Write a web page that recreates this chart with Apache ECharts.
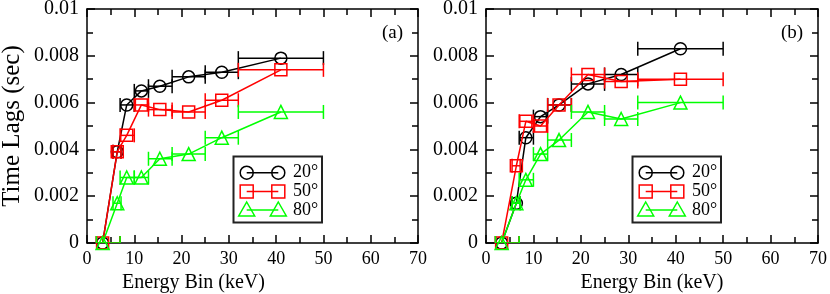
<!DOCTYPE html>
<html>
<head>
<meta charset="utf-8">
<script src="https://cdn.jsdelivr.net/npm/echarts@6/dist/echarts.min.js"></script>
<style>
html,body{margin:0;padding:0;background:#fff;}
#chart{width:830px;height:294px;}
</style>
</head>
<body>
<div id="chart"></div>
<script>
// ---- data ----
var energy = [3.3, 6.4, 8.4, 11.5, 15.4, 21.5, 28.5, 41.0];
var binLow = [2, 5.5, 7, 10, 13, 18, 25, 32];
var binHigh = [7, 7.2, 10, 13, 18, 25, 32, 50];

var lagA20 = [0, 0.0039, 0.0059, 0.0065, 0.0067, 0.0071, 0.0073, 0.0079];
var lagA50 = [0, 0.0039, 0.0046, 0.0059, 0.0057, 0.0056, 0.0061, 0.0074];
var lagA80 = [0, 0.0017, 0.0028, 0.0028, 0.0036, 0.0038, 0.0045, 0.0056];

var lagB20 = [0, 0.0017, 0.0045, 0.0054, 0.0059, 0.0068, 0.0072, 0.0083];
var lagB50 = [0, 0.0033, 0.0052, 0.0050, 0.0059, 0.0072, 0.0069, 0.0070];
var lagB80 = [0, 0.0017, 0.0027, 0.0038, 0.0044, 0.0056, 0.0053, 0.0060];

var seriesNames = ['20°', '50°', '80°'];
var panelLabels = ['(a)', '(b)'];
var xTitle = 'Energy Bin (keV)';
var yTitle = 'Time Lags (sec)';

// ---- styling ----
var FONT = '"Liberation Serif", "Times New Roman", serif';
var colors = ['#000000', '#ff0000', '#00ff00'];
var symbols = ['circle', 'rect', 'triangle'];
var symSizes = [12, 12, 13];

var grids = [
  {left: 87, top: 9, width: 331, height: 234, outerBoundsMode: 'none', containLabel: false},
  {left: 486, top: 9, width: 332, height: 234, outerBoundsMode: 'none', containLabel: false}
];

function yFmt(v) {
  if (Math.abs(v) < 1e-12) return '0';
  if (Math.abs(v - 0.01) < 1e-9) return '0.01';
  return v.toFixed(3);
}

var xAxes = [], yAxes = [];
grids.forEach(function (g, i) {
  var common = {
    gridIndex: i, type: 'value', min: 0, max: 70, interval: 10,
    axisLine: {show: true, onZero: false, lineStyle: {color: '#000', width: 1.5}},
    axisTick: {show: true, inside: true, length: 8, lineStyle: {color: '#000', width: 1.5}},
    minorTick: {show: true, splitNumber: 2, length: 6, lineStyle: {color: '#000', width: 1.5}},
    splitLine: {show: false}
  };
  xAxes.push(Object.assign({}, common, {
    position: 'bottom',
    axisLabel: {show: true, fontFamily: FONT, fontSize: 18, color: '#000', margin: 7},
    name: xTitle, nameLocation: 'middle', nameGap: 25,
    nameTextStyle: {fontFamily: FONT, fontSize: 20, color: '#000',
      padding: i === 0 ? [0, 118, 0, 0] : [0, 0, 0, 0]}
  }));
  xAxes.push(Object.assign({}, common, {position: 'top', axisLabel: {show: false}}));
  var ycommon = {
    gridIndex: i, type: 'value', min: 0, max: 0.01, interval: 0.002,
    axisLine: {show: true, onZero: false, lineStyle: {color: '#000', width: 1.5}},
    axisTick: {show: true, inside: true, length: 8, lineStyle: {color: '#000', width: 1.5}},
    minorTick: {show: true, splitNumber: 2, length: 6, lineStyle: {color: '#000', width: 1.5}},
    splitLine: {show: false}
  };
  var yl = Object.assign({}, ycommon, {
    position: 'left',
    axisLabel: {show: true, fontFamily: FONT, fontSize: 20, color: '#000', margin: 8, formatter: yFmt}
  });
  if (i === 0) {
    yl.name = yTitle;
    yl.nameLocation = 'middle';
    yl.nameGap = 62;
    yl.nameTextStyle = {fontFamily: FONT, fontSize: 25, color: '#000'};
  }
  yAxes.push(yl);
  yAxes.push(Object.assign({}, ycommon, {position: 'right', axisLabel: {show: false}}));
});

function errRender(color) {
  return function (params, api) {
    var y = api.value(1);
    var p1 = api.coord([api.value(2), y]);
    var p2 = api.coord([api.value(3), y]);
    var h = 7;
    var st = {stroke: color, lineWidth: 1.5, fill: null};
    return {
      type: 'group',
      children: [
        {type: 'line', shape: {x1: p1[0], y1: p1[1], x2: p2[0], y2: p2[1]}, style: st},
        {type: 'line', shape: {x1: p1[0], y1: p1[1] - h, x2: p1[0], y2: p1[1] + h}, style: st},
        {type: 'line', shape: {x1: p2[0], y1: p2[1] - h, x2: p2[0], y2: p2[1] + h}, style: st}
      ]
    };
  };
}

var panels = [[lagA20, lagA50, lagA80], [lagB20, lagB50, lagB80]];
var series = [];
panels.forEach(function (sets, p) {
  sets.forEach(function (vals, k) {
    series.push({
      type: 'custom', name: seriesNames[k] + ' err',
      xAxisIndex: p * 2, yAxisIndex: p * 2,
      clip: true, silent: true,
      renderItem: errRender(colors[k]),
      data: energy.map(function (e, j) { return [e, vals[j], binLow[j], binHigh[j]]; }),
      z: 2 + k * 2
    });
    series.push({
      type: 'line', name: seriesNames[k],
      xAxisIndex: p * 2, yAxisIndex: p * 2,
      clip: false,
      symbol: symbols[k], symbolSize: symSizes[k], showAllSymbol: true,
      lineStyle: {color: colors[k], width: 1.5},
      itemStyle: {color: 'transparent', borderColor: colors[k], borderWidth: 1.5},
      data: energy.map(function (e, j) { return [e, vals[j]]; }),
      z: 3 + k * 2
    });
  });
});

// legend boxes and panel labels
var graphics = [];
grids.forEach(function (g, p) {
  var ox = g.left;
  var bx = ox + 146.5, by = 156.5, bw = 88.5, bh = 66;
  graphics.push({type: 'rect', shape: {x: bx, y: by, width: bw, height: bh},
    style: {fill: '#fff', stroke: '#222', lineWidth: 2}, z: 20});
  var rows = [172.7, 191.5, 210];
  var xa = ox + 159.7, xb = ox + 191.3;
  seriesNames.forEach(function (nm, k) {
    var yy = rows[k], c = colors[k];
    var st = {stroke: c, lineWidth: 1.5, fill: null};
    graphics.push({type: 'line', shape: {x1: xa, y1: yy, x2: xb, y2: yy}, style: st, z: 21});
    [xa, xb].forEach(function (cx) {
      if (k === 0) {
        graphics.push({type: 'circle', shape: {cx: cx, cy: yy, r: 6.5}, style: st, z: 22});
      } else if (k === 1) {
        graphics.push({type: 'rect', shape: {x: cx - 6.5, y: yy - 6.5, width: 13, height: 13}, style: st, z: 22});
      } else {
        graphics.push({type: 'polygon', shape: {points: [[cx, yy - 8], [cx + 8, yy + 6], [cx - 8, yy + 6]]}, style: st, z: 22});
      }
    });
    graphics.push({type: 'text', x: ox + 206, y: yy, z: 22,
      style: {text: nm, font: '18px ' + FONT, fill: '#000', textVerticalAlign: 'middle', verticalAlign: 'middle'}});
  });
  graphics.push({type: 'text', x: ox + 295, y: 33, z: 22,
    style: {text: panelLabels[p], font: '19px ' + FONT, fill: '#000', textVerticalAlign: 'middle', verticalAlign: 'middle'}});
});

var chart = echarts.init(document.getElementById('chart'), null, {renderer: 'canvas'});
chart.setOption({
  animation: false,
  backgroundColor: '#fff',
  grid: grids,
  xAxis: xAxes,
  yAxis: yAxes,
  series: series,
  graphic: graphics
});
</script>
</body>
</html>
